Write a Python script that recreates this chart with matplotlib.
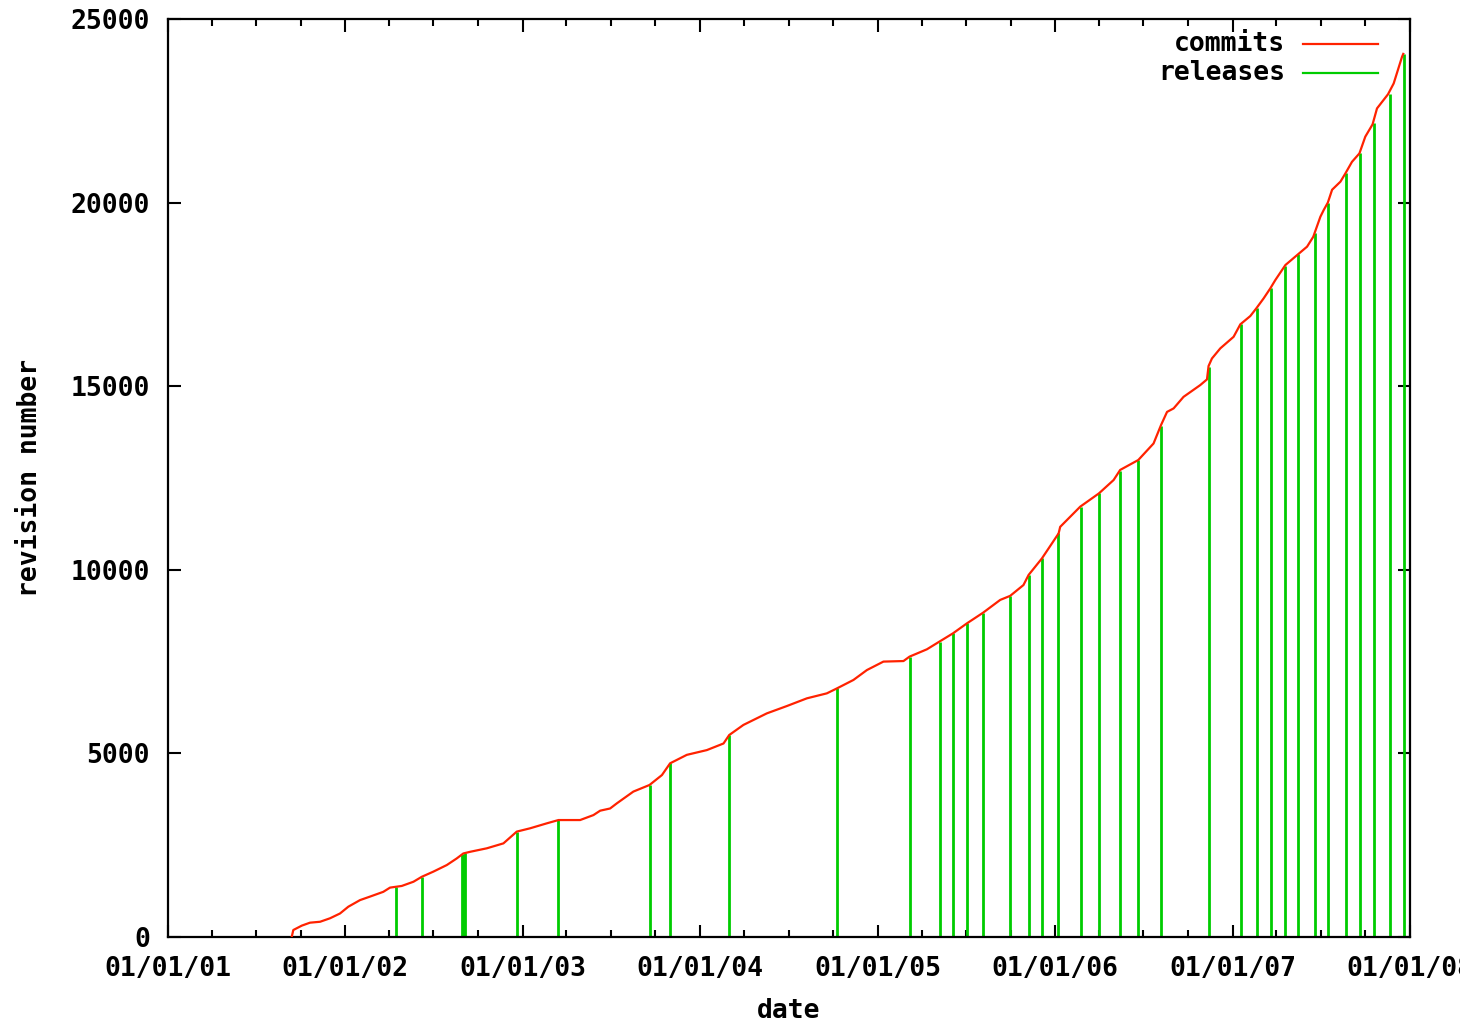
import numpy as np
import pandas as pd
import matplotlib
matplotlib.use("Agg")
import matplotlib.pyplot as plt
import matplotlib.dates as mdates

# commit history (decimal year, revision number)
commit_year = [2001.697, 2001.706, 2001.754, 2001.800, 2001.857, 2001.913, 2001.969,
               2002.016, 2002.082, 2002.138, 2002.213, 2002.251, 2002.317, 2002.383,
               2002.430, 2002.495, 2002.571, 2002.627, 2002.664, 2002.702, 2002.796,
               2002.890, 2002.965, 2003.040, 2003.134, 2003.200, 2003.322, 2003.397,
               2003.435, 2003.491, 2003.529, 2003.622, 2003.713, 2003.783, 2003.829,
               2003.923, 2004.036, 2004.130, 2004.162, 2004.242, 2004.374, 2004.487,
               2004.600, 2004.712, 2004.769, 2004.862, 2004.938, 2005.031, 2005.144,
               2005.178, 2005.276, 2005.345, 2005.423, 2005.501, 2005.592, 2005.689,
               2005.745, 2005.820, 2005.849, 2005.924, 2006.018, 2006.027, 2006.140,
               2006.245, 2006.328, 2006.365, 2006.467, 2006.553, 2006.595, 2006.629,
               2006.666, 2006.722, 2006.816, 2006.854, 2006.863, 2006.882, 2006.929,
               2007.004, 2007.042, 2007.098, 2007.132, 2007.173, 2007.211, 2007.239,
               2007.296, 2007.369, 2007.418, 2007.453, 2007.493, 2007.512, 2007.535,
               2007.559, 2007.606, 2007.634, 2007.671, 2007.713, 2007.746, 2007.787,
               2007.812, 2007.874, 2007.906, 2007.953, 2007.960]
commit_rev = [0, 190, 310, 390, 415, 510, 640,
              825, 1005, 1100, 1230, 1345, 1390, 1505,
              1640, 1780, 1960, 2140, 2275, 2320, 2415,
              2550, 2870, 2960, 3095, 3185, 3185, 3320,
              3440, 3500, 3640, 3960, 4140, 4410, 4730,
              4960, 5090, 5270, 5500, 5775, 6090, 6290,
              6500, 6635, 6770, 7000, 7270, 7500, 7515,
              7635, 7835, 8040, 8270, 8540, 8830, 9180,
              9290, 9585, 9860, 10310, 10990, 11170, 11720,
              12080, 12445, 12720, 12990, 13440, 13940, 14300,
              14395, 14710, 15030, 15185, 15550, 15755, 16030,
              16345, 16685, 16910, 17120, 17390, 17665, 17890,
              18300, 18600, 18800, 19070, 19615, 19800, 20000,
              20350, 20570, 20795, 21110, 21340, 21795, 22130,
              22565, 22950, 23245, 23970, 24050]

# releases (decimal year, revision number)
release_year = [2002.285, 2002.430, 2002.655, 2002.663, 2002.672, 2002.965, 2003.200,
                2003.713, 2003.829, 2004.162, 2004.769, 2005.178, 2005.347, 2005.423,
                2005.501, 2005.591, 2005.744, 2005.849, 2005.927, 2006.016, 2006.144,
                2006.247, 2006.364, 2006.467, 2006.597, 2006.864, 2007.047, 2007.134,
                2007.213, 2007.291, 2007.369, 2007.464, 2007.535, 2007.638, 2007.716,
                2007.794, 2007.885, 2007.964]
release_rev = [1370, 1640, 2240, 2260, 2275, 2870, 3185,
               4140, 4730, 5500, 6770, 7635, 8040, 8270,
               8540, 8830, 9290, 9860, 10310, 11000, 11720,
               12080, 12700, 12990, 13920, 15520, 16685, 17130,
               17665, 18280, 18600, 19180, 20000, 20800, 21360,
               22180, 22970, 24060]


def to_dates(years):
    years = np.asarray(years)
    return pd.Timestamp("2001-01-01") + pd.to_timedelta((years - 2001) * 365.25, unit="D")


font = {"family": "DejaVu Sans Mono", "weight": "bold", "size": 19}

fig = plt.figure(figsize=(14.6, 10.26), dpi=100)
ax = fig.add_axes([168 / 1460, 89 / 1026, 1242 / 1460, 918 / 1026])

ax.plot(to_dates(commit_year), commit_rev, color="#ff2200", lw=1.6, zorder=3)
ax.vlines(to_dates(release_year), 0, release_rev, color="#00cc00", lw=2, zorder=2)

ax.set_xlim(pd.Timestamp("2001-01-01"), pd.Timestamp("2008-01-01"))
ax.set_ylim(0, 25000)

ax.xaxis.set_major_locator(mdates.YearLocator())
ax.xaxis.set_major_formatter(mdates.DateFormatter("%m/%d/%y"))
ax.xaxis.set_minor_locator(mdates.MonthLocator(bymonth=[4, 7, 10]))
ax.set_yticks(np.arange(0, 25001, 5000))

ax.tick_params(which="both", direction="in", top=True, right=True, width=1.5, color="black")
ax.tick_params(which="major", length=9)
ax.tick_params(which="minor", length=5)
ax.tick_params(axis="x", pad=14)
ax.tick_params(axis="y", pad=13)
for lab in ax.get_xticklabels() + ax.get_yticklabels():
    lab.set_fontproperties(matplotlib.font_manager.FontProperties(**font))

for s in ax.spines.values():
    s.set_linewidth(1.6)
    s.set_color("black")

ax.set_xlabel("date", fontdict=font, labelpad=11)
ax.set_ylabel("revision number", fontdict=font, labelpad=20)

# gnuplot style key, right aligned text
key = [("commits", "#ff2200", 0.9728), ("releases", "#00cc00", 0.9412)]
for name, col, yy in key:
    ax.text(0.8994, yy, name, transform=ax.transAxes, ha="right", va="center", fontdict=font)
    ax.plot([0.914, 0.974], [yy, yy], transform=ax.transAxes, color=col, lw=1.6)

fig.savefig("out.png", dpi=100)
